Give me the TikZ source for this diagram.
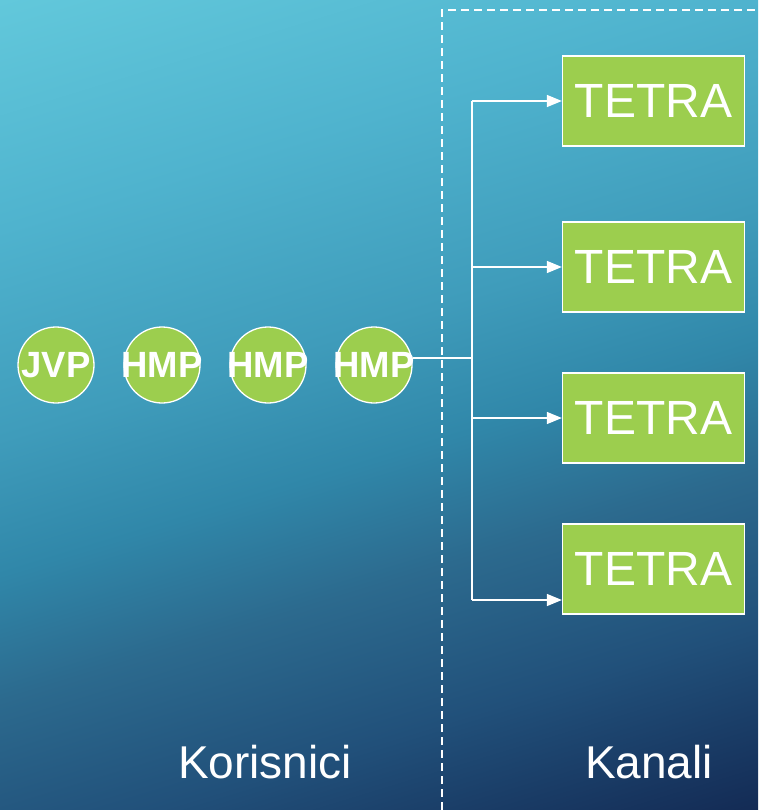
\documentclass[tikz,border=0pt]{standalone}
\usepackage{fontspec}
\setmainfont{Liberation Sans}
\usetikzlibrary{arrows.meta}
\definecolor{bgA}{HTML}{62C8DB}
\definecolor{bgB}{HTML}{4FB3CE}
\definecolor{bgC}{HTML}{3F9CBB}
\definecolor{bgD}{HTML}{3087A9}
\definecolor{bgE}{HTML}{2C6A8E}
\definecolor{bgF}{HTML}{21507A}
\definecolor{bgG}{HTML}{132A54}
\definecolor{nodegreen}{HTML}{9CCE4E}
\pgfdeclareverticalshading{bgshade}{100bp}{color(0bp)=(bgG); color(25bp)=(bgG); color(34bp)=(bgF); color(41.5bp)=(bgE); color(47.5bp)=(bgD); color(54bp)=(bgC); color(64bp)=(bgB); color(75bp)=(bgA); color(100bp)=(bgA)}
\tikzset{
  user/.style={circle, draw=white, line width=1.3pt, fill=nodegreen, minimum size=76pt, inner sep=0pt, text=white, font=\fontsize{36.5}{36.5}\selectfont\bfseries},
  chan/.style={rectangle, draw=white, line width=1.3pt, fill=nodegreen, minimum width=182pt, minimum height=90pt, inner sep=0pt, text=white, font=\fontsize{48}{48}\selectfont},
  conn/.style={white, line width=1.4pt},
  arr/.style={conn, -{Triangle[length=15pt,width=12pt]}},
  sep/.style={white, line width=1.3pt, dash pattern=on 8pt off 5pt},
  lab/.style={text=white, font=\fontsize{46}{46}\selectfont}
}
\begin{document}
\begin{tikzpicture}[x=1pt,y=-1pt]
\useasboundingbox (0,0) rectangle (758,810);
\begin{scope}
  \clip (0,0) rectangle (758,810);
  \begin{scope}[transform canvas={rotate around={17:(0,0)}}]
    \shade[shading=bgshade] (-250,0) rectangle (740,1000);
  \end{scope}
\end{scope}
\coordinate (sepB) at (442,810);
\coordinate (sepC) at (442,10);
\coordinate (sepR) at (758,10);
\draw[sep] (sepB) -- (sepC) -- (sepR);
\node[user] (u1) at (56,365) {\makebox[0pt]{JVP}};
\node[user] (u2) at (162,365) {\makebox[0pt]{HMP}};
\node[user] (u3) at (268,365) {\makebox[0pt]{HMP}};
\node[user] (u4) at (374,365) {\makebox[0pt]{HMP}};
\node[chan] (t1) at (653.5,101) {TETRA};
\node[chan] (t2) at (653.5,267) {TETRA};
\node[chan] (t3) at (653.5,418) {TETRA};
\node[chan] (t4) at (653.5,569) {TETRA};
\coordinate (hub) at (472,358);
\coordinate (b1) at (472,101);
\coordinate (b2) at (472,267);
\coordinate (b3) at (472,418);
\coordinate (b4) at (472,600);
\draw[conn] (u4.east |- hub) -- (hub);
\draw[conn] (b1) -- (b4);
\draw[arr] (b1) -- (t1.west |- b1);
\draw[arr] (b2) -- (t2.west |- b2);
\draw[arr] (b3) -- (t3.west |- b3);
\draw[arr] (b4) -- (t4.west |- b4);
\node[lab] (k1) at (265,762) {Korisnici};
\node[lab] (k2) at (649,762) {Kanali};
\end{tikzpicture}
\end{document}
